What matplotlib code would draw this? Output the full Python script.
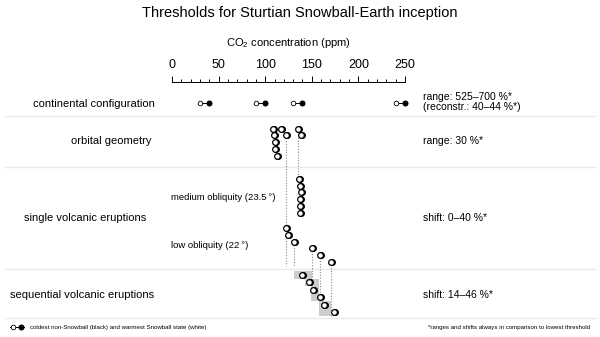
import numpy as np
import matplotlib.pyplot as plt
from matplotlib.lines import Line2D
from matplotlib.legend_handler import HandlerTuple

plt.rcParams['font.family'] = ['Liberation Sans', 'DejaVu Sans']

# CO2 thresholds in ppm (white = warmest Snowball state, black = coldest non-Snowball)
cont_white = [30, 90, 130, 240]
cont_black = [40, 100, 140, 250]

# orbital geometry: row of each experiment and its thresholds
orb_row = [0, 0, 0, 1, 1, 1, 2, 3, 4]
orb_white = [108.4, 117.2, 135.7, 109.5, 122.3, 138.2, 110.2, 110.2, 112.2]
orb_black = [109.4, 118.2, 136.7, 110.5, 123.3, 139.2, 111.2, 111.2, 113.2]

# single volcanic eruptions
med_white = [136.5, 137.0, 138.7, 137.6, 137.6, 137.6]
med_black = [137.5, 138.0, 139.7, 138.6, 138.6, 138.6]
low_white = [122.5, 124.5, 131.0, 150.0, 159.0, 171.0]
low_black = [123.5, 125.5, 132.0, 151.0, 160.0, 172.0]

# sequential volcanic eruptions, with shaded shift ranges
seq_white = [139.4, 146.7, 151.6, 158.7, 163.4, 174.1]
seq_black = [140.4, 147.7, 152.6, 159.7, 164.4, 175.1]
seq_lo = [131, 143, 149, 149, 158, 158]
seq_hi = [150, 158, 158, 158, 171, 171]

row_labels = ['continental configuration', 'orbital geometry',
              'single volcanic eruptions', 'sequential volcanic eruptions']
right_labels = ['range: 525\u2013700 %*\n(reconstr.: 40\u201344 %*)', 'range: 30 %*',
                'shift: 0\u201340 %*', 'shift: 14\u201346 %*']

# layout (figure pixels)
W, H = 600, 337
x0_px, x250_px = 172, 405
ppm_px = (x250_px - x0_px) / 250

fig = plt.figure(figsize=(6, 3.37), dpi=100)
ax = fig.add_axes([0, 0, 1, 1])
ax.set_xlim(-x0_px / ppm_px, (W - x0_px) / ppm_px)
ax.set_ylim(H, 0)
ax.axis('off')


def rows(y0, dy, n):
    return y0 + dy * np.arange(n)


y_cont = np.full(len(cont_white), 103.0)
y_orb = rows(128.5, 6.85, 5)[orb_row]
y_med = rows(178.7, 6.85, len(med_white))
y_low = rows(227.7, 6.9, len(low_white))
y_seq = rows(275.0, 7.45, len(seq_white))

# separators
for y in [116, 166.5, 269, 317.5]:
    ax.axhline(y, xmin=5 / W, xmax=595 / W, color='#e4eaf1', lw=1, zorder=0)

# shaded shift ranges
ax.barh(y_seq, np.array(seq_hi) - np.array(seq_lo), left=seq_lo, height=7.4,
        color='#cccccc', zorder=1)

# dotted guide lines
dot = dict(color='#8c8c8c', lw=0.8, linestyle=(0, (1, 1.5)), zorder=2)
ax.vlines(orb_white[2], y_orb[2], 177, **dot)
ax.vlines(orb_white[4], y_orb[4], 266, **dot)
ax.vlines(low_white[2:], y_low[2:], [266, 287, 301, 316], **dot)

# continental pairs
for xw, xb, y in zip(cont_white, cont_black, y_cont):
    ax.plot([xw, xb], [y, y], color='black', lw=0.7, zorder=3)
ax.plot(cont_black, y_cont, 'o', ms=3.7, mfc='black', mec='black', mew=0.6, zorder=4)
ax.plot(cont_white, y_cont, 'o', ms=3.3, mfc='white', mec='black', mew=0.6, zorder=5)

# clustered experiments
for xw, xb, y in [(orb_white, orb_black, y_orb), (med_white, med_black, y_med),
                  (low_white, low_black, y_low), (seq_white, seq_black, y_seq)]:
    ax.plot(xb, y, 'o', ms=4.1, mfc='black', mec='black', mew=0.9, zorder=4)
    ax.plot(xw, y, 'o', ms=4.1, mfc='white', mec='black', mew=0.9, zorder=5)

# CO2 scale
sc = fig.add_axes([x0_px / W, 1 - 82 / H, (x250_px - x0_px) / W, 1e-4])
sc.set_xlim(0, 250)
sc.set_ylim(0, 1)
for s in ['left', 'right', 'top']:
    sc.spines[s].set_visible(False)
sc.spines['bottom'].set_linewidth(0.7)
sc.set_yticks([])
sc.set_xticks(np.arange(0, 251, 50))
sc.set_xticks(np.arange(0, 251, 10), minor=True)
sc.tick_params(axis='x', which='both', direction='in', bottom=True, top=False,
               labelbottom=False, labeltop=True, width=0.7, labelsize=9, pad=8)
sc.tick_params(axis='x', which='major', length=4.5)
sc.tick_params(axis='x', which='minor', length=2.2)
sc.patch.set_visible(False)

fig.text(300 / W, 1 - 13 / H, 'Thresholds for Sturtian Snowball-Earth inception',
         ha='center', va='center', fontsize=10.5)
fig.text(288 / W, 1 - 43 / H, 'CO$\\mathregular{_2}$ concentration (ppm)',
         ha='center', va='center', fontsize=8)

for lab, xl, y in zip(row_labels, [33, 71, 24, 10], [104, 141, 218, 295]):
    fig.text(xl / W, 1 - y / H, lab, ha='left', va='center', fontsize=8)
for lab, y in zip(right_labels, [102, 141, 218, 295]):
    fig.text(423 / W, 1 - y / H, lab, ha='left', va='center', fontsize=7.5,
             linespacing=0.95)

fig.text(171 / W, 1 - 198 / H, 'medium obliquity (23.5\u2009\u00b0)', ha='left',
         va='center', fontsize=6.8)
fig.text(171 / W, 1 - 246 / H, 'low obliquity (22\u2009\u00b0)', ha='left',
         va='center', fontsize=6.8)

# footer legend
h_white = Line2D([], [], color='black', lw=0.7, marker='o', ms=3.3, mfc='white',
                 mec='black', mew=0.6)
h_black = Line2D([], [], color='black', lw=0.7, marker='o', ms=3.7, mfc='black',
                 mec='black', mew=0.6)
ax.legend([(h_white, h_black)],
          ['coldest non-Snowball (black) and warmest Snowball state (white)'],
          handler_map={tuple: HandlerTuple(ndivide=2, pad=0)}, numpoints=1,
          loc='center left', bbox_to_anchor=(9.6 / W, 1 - 327.5 / H),
          bbox_transform=fig.transFigure, frameon=False, fontsize=4.4,
          handlelength=2.4, handletextpad=1.0, borderpad=0, borderaxespad=0)
fig.text(590 / W, 1 - 327.5 / H,
         '*ranges and shifts always in comparison to lowest threshold',
         ha='right', va='center', fontsize=4.4)

fig.savefig('out.png', dpi=100)
